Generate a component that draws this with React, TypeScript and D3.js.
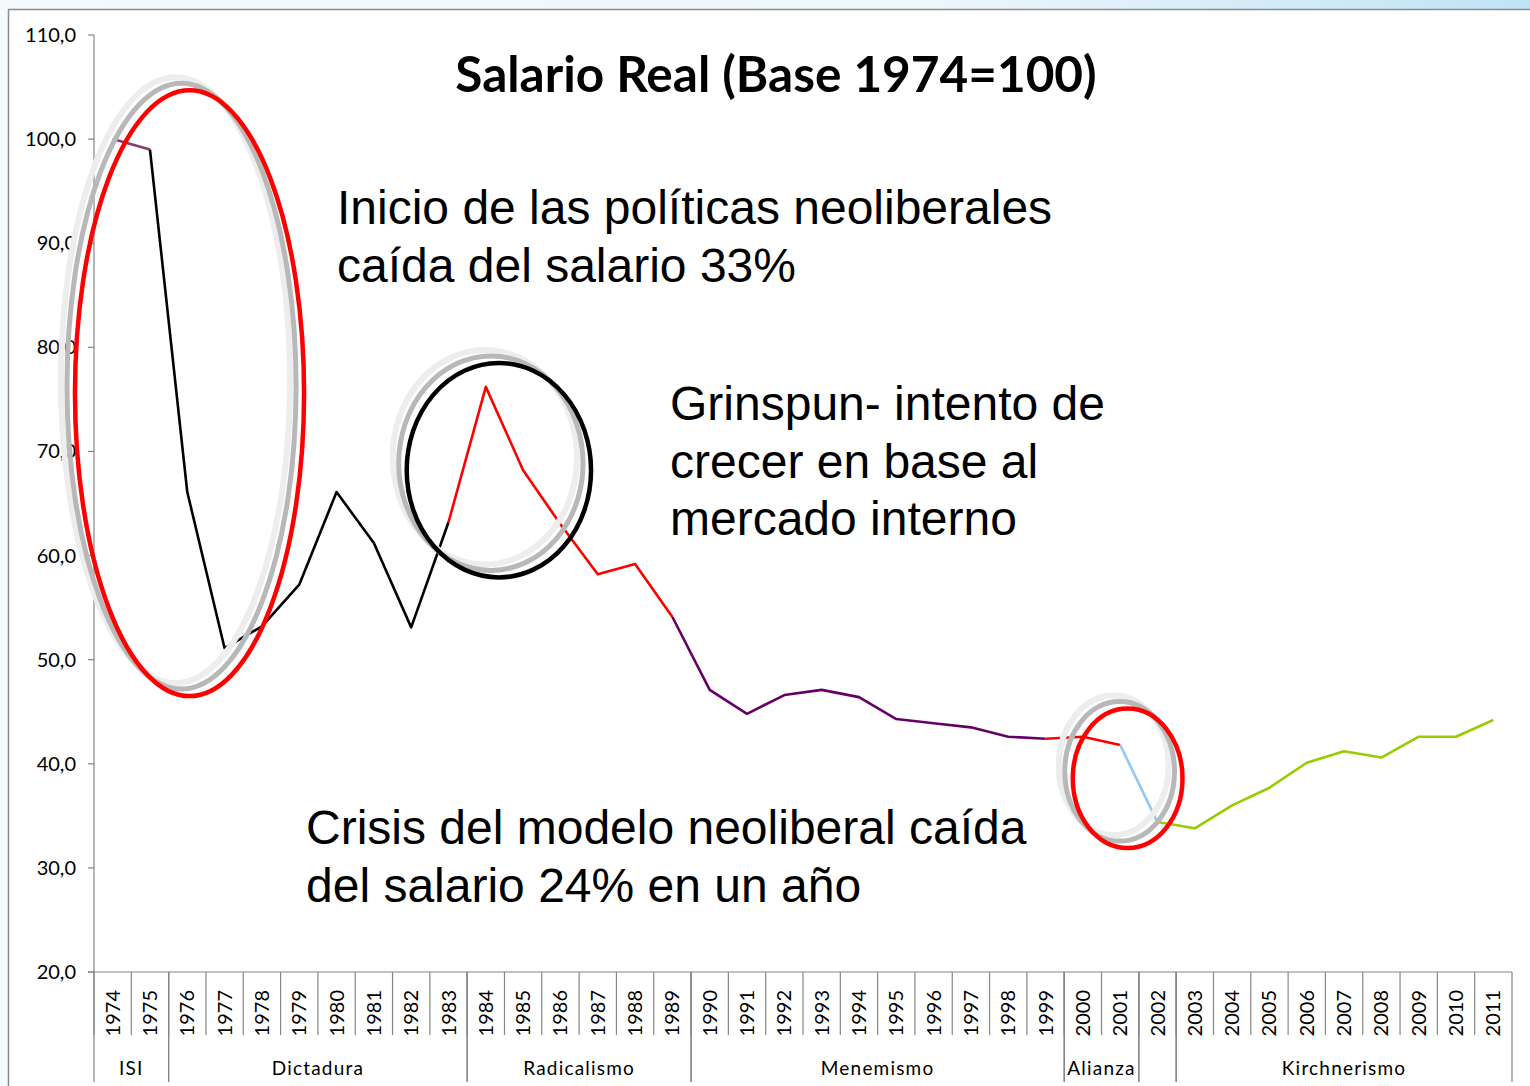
import React from "react";
import * as d3 from "d3";

const years = [
  "1974","1975","1976","1977","1978","1979","1980","1981","1982","1983",
  "1984","1985","1986","1987","1988","1989","1990","1991","1992","1993",
  "1994","1995","1996","1997","1998","1999","2000","2001","2002","2003",
  "2004","2005","2006","2007","2008","2009","2010","2011",
];
const salario = [
  100.0, 99.0, 66.1, 51.1, 53.2, 57.2, 66.1, 61.2, 53.1, 63.2,
  76.2, 68.2, 63.0, 58.2, 59.2, 54.1, 47.1, 44.8, 46.6, 47.1,
  46.4, 44.3, 43.9, 43.5, 42.6, 42.4, 42.6, 41.8, 34.4, 33.8,
  36.0, 37.7, 40.1, 41.2, 40.6, 42.6, 42.6, 44.2,
];
// line pieces: [from year, to year]
const tramos = [
  ["1974", "1975"],
  ["1975", "1983"],
  ["1983", "1989"],
  ["1989", "1999"],
  ["1999", "2001"],
  ["2001", "2002"],
  ["2002", "2011"],
];
const periodos = ["ISI", "Dictadura", "Radicalismo", "Menemismo", "Alianza", "", "Kirchnerismo"];
const periodoAnios = [2, 8, 6, 10, 2, 1, 9];
const yTicks = [20, 30, 40, 50, 60, 70, 80, 90, 100, 110];
const titulo = "Salario Real (Base 1974=100)";
const notas = [
  ["Inicio de las políticas neoliberales", "caída del salario 33%"],
  ["Grinspun- intento de", "crecer en base al", "mercado interno"],
  ["Crisis del modelo neoliberal caída", "del salario 24% en un año"],
];
// ellipses: [center year index, center value, radius in bands, radius in value units]
const elipses = [
  [2.06, 75.6, 3.07, 29.1],
  [10.35, 68.2, 2.47, 10.3],
  [27.2, 38.6, 1.47, 6.7],
];

const tramoColors = ["#8b3a6e", "#000000", "#ff0000", "#660066", "#ff0000", "#8ec9f7", "#99cc00"];
const elipseColors = ["#ff0000", "#000000", "#ff0000"];

export default function App() {
  const W = 1530, H = 1086;
  const left = 94, right = 1512, top = 35, bottom = 972;
  const x = d3.scaleBand<string>().domain(years).range([left, right]).paddingInner(0).paddingOuter(0);
  const y = d3.scaleLinear().domain([20, 110]).range([bottom, top]);
  const bw = x.bandwidth();
  const cx = (yr: string) => (x(yr) as number) + bw / 2;
  const pts = years.map((yr, i) => [cx(yr), y(salario[i])] as [number, number]);
  const lineGen = d3.line<[number, number]>().x(d => d[0]).y(d => d[1]);

  const axisColor = "#868686";
  const smallFont = "Lato, 'Open Sans', sans-serif";
  const bigFont = "'Liberation Sans', Arial, sans-serif";

  let acc = 0;
  const groups = periodoAnios.map((n, gi) => {
    const s = acc; acc += n;
    const x0 = x(years[s]) as number;
    const x1 = (x(years[acc - 1]) as number) + bw;
    return { label: periodos[gi], x0, x1 };
  });

  const k = bw;
  const pxPerUnit = Math.abs(y(0) - y(1));

  return (
    <div style={{ position: "absolute", left: 0, top: 0 }}>
      <svg width={W} height={H} style={{ display: "block", background: "#fff" }}>
        <defs>
          <linearGradient id="topbg" x1="0" x2="1" y1="0" y2="0">
            <stop offset="0" stopColor="#f3f9fd" />
            <stop offset="0.6" stopColor="#eef7fc" />
            <stop offset="1" stopColor="#bfe3f6" />
          </linearGradient>
        </defs>
        <rect x={0} y={0} width={W} height={9} fill="url(#topbg)" />
        <rect x={0} y={0} width={8} height={H} fill="#f6fafd" />
        <line x1={8} y1={9.5} x2={W} y2={9.5} stroke="#8c8c8c" strokeWidth={1.5} />
        <line x1={8.5} y1={9} x2={8.5} y2={H} stroke="#8c8c8c" strokeWidth={1.5} />

        {/* y axis */}
        <line x1={left} y1={top} x2={left} y2={bottom} stroke={axisColor} strokeWidth={1.2} />
        {yTicks.map(t => (
          <g key={t}>
            <line x1={left - 6} x2={left} y1={y(t)} y2={y(t)} stroke={axisColor} strokeWidth={1.2} />
            <text x={left - 18} y={y(t)} dy="0.35em" textAnchor="end" fontFamily={smallFont} fontSize={20} fill="#000">
              {t.toFixed(1).replace(".", ",")}
            </text>
          </g>
        ))}

        {/* x axis */}
        <line x1={left - 6} x2={right} y1={bottom} y2={bottom} stroke={axisColor} strokeWidth={1.2} />
        {years.map((yr) => (
          <g key={yr}>
            <line x1={(x(yr) as number)} x2={(x(yr) as number)} y1={bottom} y2={bottom + 63} stroke={axisColor} strokeWidth={1.2} />
            <text transform={`translate(${cx(yr) + 7},${bottom + 18}) rotate(-90)`} textAnchor="end" fontFamily={smallFont} fontSize={20} fill="#000">
              {yr}
            </text>
          </g>
        ))}
        {groups.map((g, gi) => (
          <g key={gi}>
            <line x1={g.x0} x2={g.x0} y1={bottom} y2={1082} stroke={axisColor} strokeWidth={1.2} />
            <line x1={g.x1} x2={g.x1} y1={bottom} y2={1082} stroke={axisColor} strokeWidth={1.2} />
            <text x={(g.x0 + g.x1) / 2} y={1075} textAnchor="middle" fontFamily={smallFont} fontSize={19} letterSpacing={1.2} fill="#000">
              {g.label}
            </text>
          </g>
        ))}

        {/* series */}
        {tramos.map((tr, ti) => {
          const a = years.indexOf(tr[0]);
          const b = years.indexOf(tr[1]);
          return (
            <path key={ti} d={lineGen(pts.slice(a, b + 1)) || ""} fill="none" stroke={tramoColors[ti]} strokeWidth={2.6} strokeLinejoin="round" />
          );
        })}

        {/* title */}
        <text x={776} y={92} textAnchor="middle" fontFamily="Lato, 'Open Sans', sans-serif" fontWeight="bold" fontSize={49.5} fill="#000">
          {titulo}
        </text>

        {/* ellipses */}
        {elipses.map((e, ei) => {
          const ex = cx(years[0]) + e[0] * k;
          const ey = y(e[1]);
          const rx = e[2] * k;
          const ry = e[3] * pxPerUnit;
          return (
            <g key={ei}>
              <ellipse cx={ex - 14} cy={ey - 13} rx={rx} ry={ry} fill="none" stroke="#ededed" strokeWidth={6} />
              <ellipse cx={ex - 8} cy={ey - 7} rx={rx} ry={ry} fill="none" stroke="#b8b8b8" strokeWidth={5} />
              <ellipse cx={ex} cy={ey} rx={rx} ry={ry} fill="none" stroke={elipseColors[ei]} strokeWidth={4.5} />
            </g>
          );
        })}

        {/* annotations */}
        {[{ x: 337, y: 224 }, { x: 670, y: 420 }, { x: 306, y: 844 }].map((p, ni) => (
          <text key={ni} x={p.x} y={p.y} fontFamily={bigFont} fontSize={48} fill="#000">
            {notas[ni].map((l, li) => (
              <tspan key={li} x={p.x} dy={li === 0 ? 0 : 57.5}>{l}</tspan>
            ))}
          </text>
        ))}
      </svg>
    </div>
  );
}
